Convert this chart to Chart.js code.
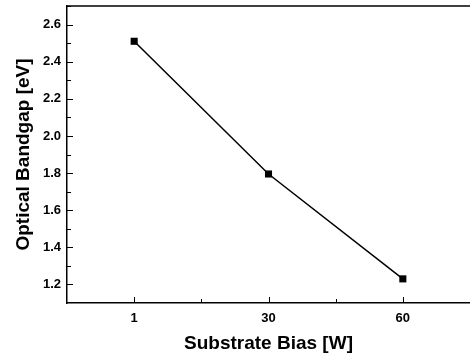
<!DOCTYPE html>
<html>
<head>
<meta charset="utf-8">
<script src="https://cdn.jsdelivr.net/npm/chart.js@4"></script>
<style>
  html, body { margin: 0; padding: 0; background: #fff; }
  #wrap { width: 470px; height: 359px; }
</style>
</head>
<body>
<div id="wrap"><canvas id="bandgapChart"></canvas></div>
<script>
// substrate bias categories and measured gap
const biasLabels = ["1", "30", "60"];
const bandgap = [2.51, 1.795, 1.23];
const yTicks = [1.2, 1.4, 1.6, 1.8, 2.0, 2.2, 2.4, 2.6];

const points = bandgap.map((v, i) => ({ x: i, y: v }));
const FONT = "'Liberation Sans', Arial, Helvetica, sans-serif";

// inward ticks + top frame line, drawn from the scales
const frameTicks = {
  id: "frameTicks",
  afterDraw(chart) {
    const { ctx, chartArea: a, scales } = chart;
    ctx.save();
    ctx.strokeStyle = "#000";
    ctx.lineWidth = 1.5;
    ctx.beginPath();
    ctx.moveTo(a.left, a.top);
    ctx.lineTo(a.right, a.top);
    ctx.stroke();

    ctx.lineWidth = 1;
    ctx.beginPath();
    scales.y.ticks.forEach(t => {
      const py = Math.round(scales.y.getPixelForValue(t.value)) + 0.5;
      const major = Math.abs(t.value * 5 - Math.round(t.value * 5)) < 1e-6;
      ctx.moveTo(a.left, py);
      ctx.lineTo(a.left + (major ? 6 : 4), py);
    });
    scales.x.ticks.forEach(t => {
      if (t.value <= -0.5 || t.value >= 2.5) return;
      const px = Math.round(scales.x.getPixelForValue(t.value)) + 0.5;
      const major = Number.isInteger(t.value);
      ctx.moveTo(px, a.bottom);
      ctx.lineTo(px, a.bottom - (major ? 6 : 4));
    });
    ctx.stroke();
    ctx.restore();
  }
};

new Chart(document.getElementById("bandgapChart"), {
  type: "line",
  data: {
    datasets: [{
      data: points,
      borderColor: "#000",
      borderWidth: 1.5,
      backgroundColor: "#000",
      pointStyle: "rect",
      pointRadius: 5,
      pointBorderWidth: 0,
      tension: 0
    }]
  },
  options: {
    responsive: true,
    maintainAspectRatio: false,
    animation: false,
    layout: { autoPadding: false, padding: { top: 6, left: 0, right: 0, bottom: 0 } },
    plugins: { legend: { display: false }, tooltip: { enabled: false } },
    scales: {
      x: {
        type: "linear",
        min: -0.5,
        max: 2.5,
        afterFit: s => { s.height = 56; s.paddingLeft = 0; s.paddingRight = 0; },
        border: { display: true, color: "#000", width: 1.5 },
        grid: { display: false, drawTicks: false },
        ticks: {
          stepSize: 0.5,
          autoSkip: false,
          maxRotation: 0,
          padding: 8,
          color: "#000",
          font: { family: FONT, size: 13, weight: "bold" },
          callback: v => Number.isInteger(v) && biasLabels[v] !== undefined ? biasLabels[v] : ""
        },
        title: {
          display: true,
          text: "Substrate Bias [W]",
          color: "#000",
          font: { family: FONT, size: 19, weight: "bold" },
          padding: { top: 0, bottom: 4 }
        }
      },
      y: {
        min: 1.1,
        max: 2.7,
        afterFit: s => { s.width = 67; s.paddingTop = 0; s.paddingBottom = 0; },
        afterBuildTicks: s => {
          const t = [];
          for (let i = 0; i < yTicks.length; i++) {
            t.push({ value: yTicks[i] });
            t.push({ value: +(yTicks[i] + 0.1).toFixed(1) });
          }
          s.ticks = t;
        },
        border: { display: true, color: "#000", width: 1.5 },
        grid: { display: false, drawTicks: false },
        ticks: {
          padding: 6,
          color: "#000",
          font: { family: FONT, size: 13, weight: "bold" },
          callback: v => yTicks.some(y => Math.abs(y - v) < 1e-6) ? v.toFixed(1) : ""
        },
        title: {
          display: true,
          text: "Optical Bandgap [eV]",
          color: "#000",
          font: { family: FONT, size: 19, weight: "bold" },
          padding: { top: 12, bottom: 0 }
        }
      }
    }
  },
  plugins: [frameTicks]
});
</script>
</body>
</html>
